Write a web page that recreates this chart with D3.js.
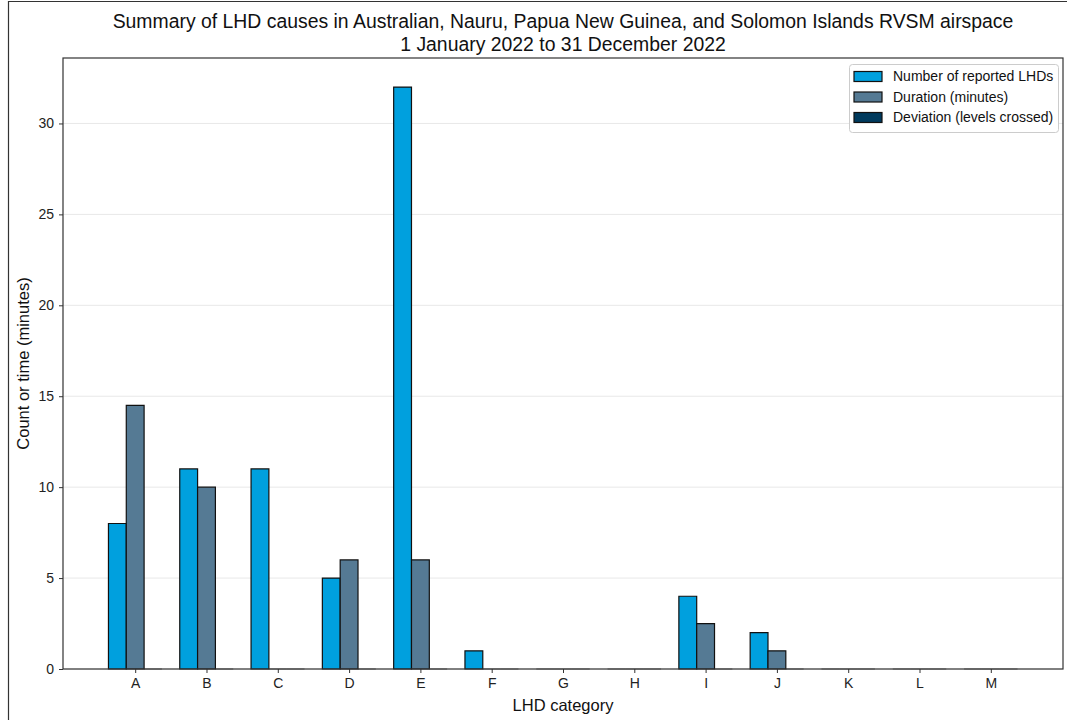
<!DOCTYPE html>
<html>
<head>
<meta charset="utf-8">
<script src="https://cdn.jsdelivr.net/npm/d3@7"></script>
<style>
  body { margin: 0; background: #fff; }
  svg { font-family: "Liberation Sans", Arial, sans-serif; }
</style>
</head>
<body>
<div id="chart"></div>
<script>
// data
var categories = ["A", "B", "C", "D", "E", "F", "G", "H", "I", "J", "K", "L", "M"];
var seriesNames = ["Number of reported LHDs", "Duration (minutes)", "Deviation (levels crossed)"];
var reportedLHDs = [8, 11, 11, 5, 32, 1, 0, 0, 4, 2, 0, 0, 0];
var durationMinutes = [14.5, 10, 0, 6, 6, 0, 0, 0, 2.5, 1, 0, 0, 0];
var levelsCrossed = [0, 0, 0, 0, 0, 0, 0, 0, 0, 0, 0, 0, 0];
var yTicks = [0, 5, 10, 15, 20, 25, 30];

var colors = ["#00a0de", "#557a94", "#003a5d"];
var series = [reportedLHDs, durationMinutes, levelsCrossed];

var width = 1067, height = 720;
var margin = {top: 58, right: 4, bottom: 51, left: 63};
var plotW = width - margin.left - margin.right,
    plotH = height - margin.top - margin.bottom;

var svg = d3.select("#chart").append("svg")
    .attr("width", width)
    .attr("height", height);

// outer frame (cut off at right/bottom in the original)
svg.append("path")
    .attr("d", "M8.5," + height + "V1.5H" + width)
    .attr("fill", "none")
    .attr("stroke", "#333")
    .attr("stroke-width", 1.2);

var barW = 0.25;
var maxY = d3.max(series, function(s) { return d3.max(s); });
var x = d3.scaleLinear()
    .domain([-0.375 - 12.75 * 0.05, 12.375 + 12.75 * 0.05])
    .range([0, plotW]);
var y = d3.scaleLinear()
    .domain([0, maxY * 1.05])
    .range([plotH, 0]);

var g = svg.append("g")
    .attr("transform", "translate(" + margin.left + "," + margin.top + ")");

// gridlines
g.append("g").selectAll("line")
    .data(yTicks)
    .enter().append("line")
    .attr("x1", 0).attr("x2", plotW)
    .attr("y1", function(d) { return y(d); })
    .attr("y2", function(d) { return y(d); })
    .attr("stroke", "#e8e8e8")
    .attr("stroke-width", 1);

// bars, as paths so the zero bars still show their edge
var bars = [];
series.forEach(function(s, j) {
  s.forEach(function(v, i) {
    bars.push({i: i, j: j, v: v});
  });
});
g.append("g").selectAll("path")
    .data(bars)
    .enter().append("path")
    .attr("d", function(d) {
      var c = d.i + (d.j - 1) * barW;
      var x0 = x(c - barW / 2), x1 = x(c + barW / 2);
      return "M" + x0 + "," + y(0) + "H" + x1 + "V" + y(d.v) + "H" + x0 + "Z";
    })
    .attr("fill", function(d) { return colors[d.j]; })
    .attr("stroke", "#111")
    .attr("stroke-opacity", function(d) { return d.v === 0 ? 0.55 : 1; })
    .attr("stroke-width", 1.2);

// axes
var xAxis = d3.axisBottom(x)
    .tickValues(d3.range(categories.length))
    .tickFormat(function(d) { return categories[d]; })
    .tickSize(4).tickPadding(5).tickSizeOuter(0);
var yAxis = d3.axisLeft(y)
    .tickValues(yTicks)
    .tickSize(4).tickPadding(5).tickSizeOuter(0);

var gx = g.append("g")
    .attr("transform", "translate(0," + plotH + ")")
    .call(xAxis);
var gy = g.append("g").call(yAxis);
[gx, gy].forEach(function(a) {
  a.selectAll("text").attr("font-size", 14).attr("fill", "#222")
      .attr("font-family", "Liberation Sans, Arial, sans-serif");
  a.selectAll("line").attr("stroke", "#333");
  a.select(".domain").remove();
});

// spines
g.append("rect")
    .attr("x", 0).attr("y", 0)
    .attr("width", plotW).attr("height", plotH)
    .attr("fill", "none")
    .attr("stroke", "#333")
    .attr("stroke-width", 1.2);

// title
var title = svg.append("text")
    .attr("text-anchor", "middle")
    .attr("font-size", 19.4)
    .attr("fill", "#111");
title.append("tspan")
    .attr("x", margin.left + plotW / 2).attr("y", 28)
    .text("Summary of LHD causes in Australian, Nauru, Papua New Guinea, and Solomon Islands RVSM airspace");
title.append("tspan")
    .attr("x", margin.left + plotW / 2).attr("y", 51)
    .text("1 January 2022 to 31 December 2022");

// axis labels
svg.append("text")
    .attr("x", margin.left + plotW / 2)
    .attr("y", 711)
    .attr("text-anchor", "middle")
    .attr("font-size", 16.5)
    .attr("fill", "#111")
    .text("LHD category");
svg.append("text")
    .attr("transform", "translate(29," + (margin.top + plotH / 2) + ") rotate(-90)")
    .attr("text-anchor", "middle")
    .attr("font-size", 16.5)
    .attr("fill", "#111")
    .text("Count or time (minutes)");

// legend
var lx = 849, ly = 64;
var legend = svg.append("g").attr("transform", "translate(" + lx + "," + ly + ")");
legend.append("rect")
    .attr("x", 0.5).attr("y", 0.5)
    .attr("width", 209).attr("height", 68)
    .attr("rx", 3)
    .attr("fill", "#fff")
    .attr("stroke", "#ccc");
var item = legend.selectAll(".item")
    .data(seriesNames)
    .enter().append("g")
    .attr("transform", function(d, i) { return "translate(0," + (12 + i * 20.5) + ")"; });
item.append("rect")
    .attr("x", 5).attr("y", -4.5)
    .attr("width", 28).attr("height", 10)
    .attr("fill", function(d, i) { return colors[i]; })
    .attr("stroke", "#111")
    .attr("stroke-width", 1.2);
item.append("text")
    .attr("x", 44).attr("y", 5)
    .attr("font-size", 14)
    .attr("fill", "#111")
    .text(function(d) { return d; });
</script>
</body>
</html>
